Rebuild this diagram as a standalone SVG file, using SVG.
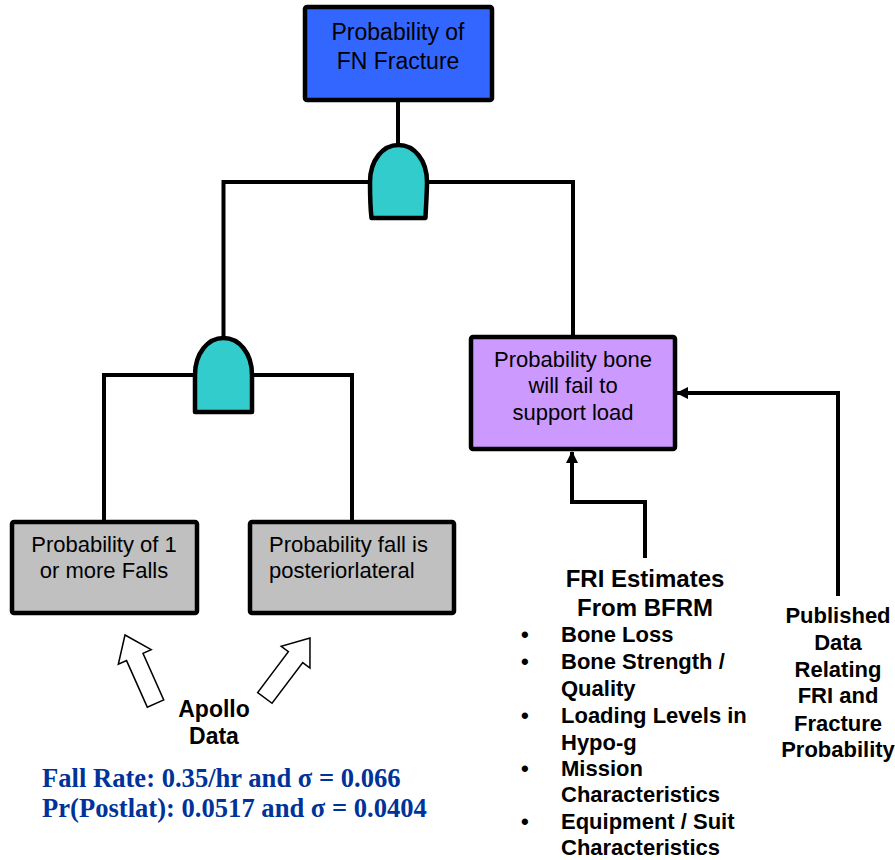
<svg xmlns="http://www.w3.org/2000/svg" width="895" height="860" viewBox="0 0 895 860">
<style>
.box{stroke:#000;stroke-width:4.5}
.gate{fill:#33CCCC;stroke:#000;stroke-width:4.5;stroke-linejoin:round}
.wire{fill:none;stroke:#000;stroke-width:4}
.lbl{font-family:"Liberation Sans",Arial,sans-serif;font-size:22px;fill:#000}
.bold{font-family:"Liberation Sans",Arial,sans-serif;font-size:22px;font-weight:bold;fill:#000}
.blue{font-family:"Liberation Serif","Times New Roman",serif;font-size:26.6px;font-weight:bold;fill:#003399}
.hollow{fill:#fff;stroke:#000;stroke-width:1.5;stroke-linejoin:miter}
</style>
<defs>
<marker id="ah" viewBox="0 0 12 12" refX="11" refY="6" markerWidth="12" markerHeight="12" markerUnits="userSpaceOnUse" orient="auto">
<path d="M0,0 L12,6 L0,12 Z" fill="#000"/>
</marker>
</defs>
<rect width="895" height="860" fill="#fff"/>
<g id="connectors">
<path class="wire" d="M398,100 V147"/>
<path class="wire" d="M223.5,340 V182 H573 V337"/>
<path class="wire" d="M104,522 V375 H352 V522"/>
<path class="wire" d="M645,558 V502 H572 V452" marker-end="url(#ah)"/>
<path class="wire" d="M838,596 V393 H677" marker-end="url(#ah)"/>
</g>
<g id="top-event">
<rect class="box" x="305" y="7" width="187" height="93" rx="2" fill="#3366FF"/>
<text class="lbl" text-anchor="middle" x="398" y="40" style="font-size:23px">Probability of</text>
<text class="lbl" text-anchor="middle" x="398" y="69" style="font-size:23px">FN Fracture</text>
</g>
<g id="gate-top">
<path class="gate" d="M371.5,218 C370,205 370,192 370,182 C370,160 383,145 398.5,145 C414,145 427,160 427,182 C427,192 426,205 425.5,218 Z"/>
</g>
<g id="gate-falls">
<path class="gate" d="M195,412 V375 C195,353 208,338 223.5,338 C239,338 252,353 252,375 V412 Z"/>
</g>
<g id="bone-fail">
<rect class="box" x="471" y="337" width="204" height="112" rx="2" fill="#CC99FF"/>
<text class="lbl" text-anchor="middle" x="573" y="367">Probability bone</text>
<text class="lbl" text-anchor="middle" x="573" y="393">will fail to</text>
<text class="lbl" text-anchor="middle" x="573" y="420">support load</text>
</g>
<g id="falls">
<rect class="box" x="12" y="522" width="185" height="91" rx="2" fill="#C0C0C0"/>
<text class="lbl" text-anchor="middle" x="104" y="552">Probability of 1</text>
<text class="lbl" text-anchor="middle" x="104" y="578">or more Falls</text>
</g>
<g id="posterolateral">
<rect class="box" x="250" y="522" width="204" height="91" rx="2" fill="#C0C0C0"/>
<text class="lbl" x="269" y="552">Probability fall is</text>
<text class="lbl" x="269" y="578">posteriorlateral</text>
</g>
<g id="apollo">
<path class="hollow" transform="translate(125,635) rotate(-24)" d="M0,0 L18,24 L9,24 L9,75 L-9,75 L-9,24 L-18,24 Z"/>
<path class="hollow" transform="translate(310,638) rotate(37)" d="M0,0 L18,24 L9,24 L9,75 L-9,75 L-9,24 L-18,24 Z"/>
<text class="bold" text-anchor="middle" x="214" y="717" style="font-size:23px">Apollo</text>
<text class="bold" text-anchor="middle" x="214" y="744" style="font-size:23px">Data</text>
<text class="blue" x="42" y="787">Fall Rate: 0.35/hr and σ = 0.066</text>
<text class="blue" x="42" y="817">Pr(Postlat): 0.0517 and σ = 0.0404</text>
</g>
<g id="fri">
<text class="bold" text-anchor="middle" x="645" y="587" style="font-size:24px">FRI Estimates</text>
<text class="bold" text-anchor="middle" x="645" y="616" style="font-size:24px">From BFRM</text>
<text class="bold" x="521" y="642">•</text>
<text class="bold" x="561" y="642">Bone Loss</text>
<text class="bold" x="521" y="669">•</text>
<text class="bold" x="561" y="669">Bone Strength /</text>
<text class="bold" x="561" y="696">Quality</text>
<text class="bold" x="521" y="723">•</text>
<text class="bold" x="561" y="723">Loading Levels in</text>
<text class="bold" x="561" y="750">Hypo-g</text>
<text class="bold" x="521" y="776">•</text>
<text class="bold" x="561" y="776">Mission</text>
<text class="bold" x="561" y="802">Characteristics</text>
<text class="bold" x="521" y="829">•</text>
<text class="bold" x="561" y="829">Equipment / Suit</text>
<text class="bold" x="561" y="855">Characteristics</text>
</g>
<g id="published">
<text class="bold" text-anchor="middle" x="838" y="623">Published</text>
<text class="bold" text-anchor="middle" x="838" y="650">Data</text>
<text class="bold" text-anchor="middle" x="838" y="677">Relating</text>
<text class="bold" text-anchor="middle" x="838" y="703">FRI and</text>
<text class="bold" text-anchor="middle" x="838" y="731">Fracture</text>
<text class="bold" text-anchor="middle" x="838" y="757">Probability</text>
</g>
</svg>
